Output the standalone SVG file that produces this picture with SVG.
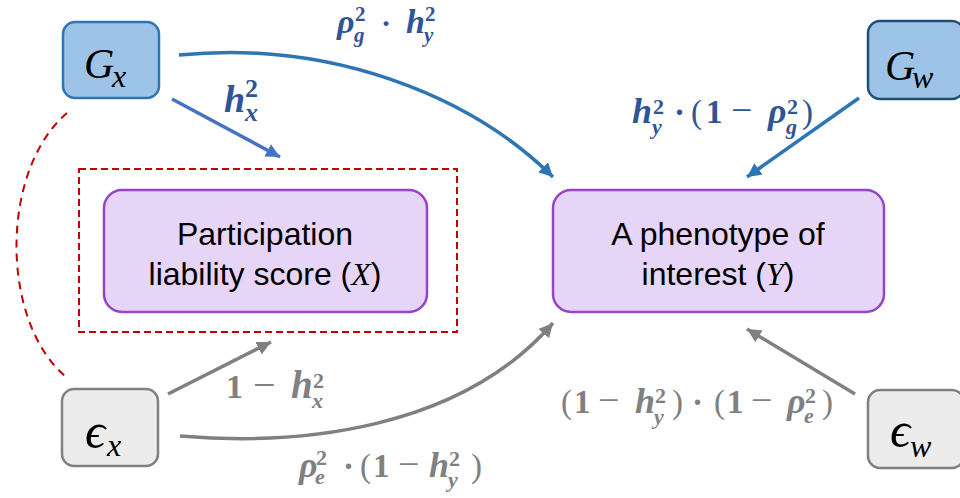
<svg xmlns="http://www.w3.org/2000/svg" width="960" height="498" viewBox="0 0 960 498">
<defs>
<style>
.gbox{fill:#9dc3e6;stroke:#2e75b6;stroke-width:2.5}
.gwbox{fill:#9dc3e6;stroke:#1f4e79;stroke-width:2.5}
.ebox{fill:#ececec;stroke:#808080;stroke-width:2.5}
.pbox{fill:#e6d5f7;stroke:#9446c6;stroke-width:2.5}
.sym{font-family:"Liberation Serif","DejaVu Serif",serif;font-style:italic;fill:#000}
.lbl{font-family:"Liberation Sans",Arial,sans-serif;font-size:32px;fill:#000;text-anchor:middle}
.m{font-family:"Liberation Serif","DejaVu Serif",serif;font-weight:bold}
.blue{fill:#2f5597}
.gray{fill:#808080}
.i{font-style:italic}
.n{font-weight:normal}
.conn{fill:none;stroke-width:3.5}
.cb{stroke:#2e75b6}
.cb2{stroke:#4472c4}
.cg{stroke:#808080}
.red{fill:none;stroke:#c00000;stroke-width:2;stroke-dasharray:8 6}
</style>
<marker id="ab" markerUnits="userSpaceOnUse" markerWidth="16" markerHeight="14" refX="14" refY="7" orient="auto"><path d="M0,0 L14,7 L0,14 Z" fill="#2e75b6"/></marker>
<marker id="ab2" markerUnits="userSpaceOnUse" markerWidth="16" markerHeight="14" refX="14" refY="7" orient="auto"><path d="M0,0 L14,7 L0,14 Z" fill="#4472c4"/></marker>
<marker id="ag" markerUnits="userSpaceOnUse" markerWidth="16" markerHeight="14" refX="14" refY="7" orient="auto"><path d="M0,0 L14,7 L0,14 Z" fill="#808080"/></marker>
</defs>
<rect width="960" height="498" fill="#ffffff"/>

<g id="connectors">
<path class="red" d="M67,113 C0,170 0,320 65,376"/>
<path class="conn cb2" d="M172,99 L280,157" marker-end="url(#ab2)"/>
<path class="conn cb" d="M179,55 C330,40 470,95 553,177" marker-end="url(#ab)"/>
<path class="conn cb" d="M859,98 L747,177" marker-end="url(#ab)"/>
<path class="conn cg" d="M168,394 L271,342" marker-end="url(#ag)"/>
<path class="conn cg" d="M180,436 C300,446 460,430 553,323" marker-end="url(#ag)"/>
<path class="conn cg" d="M855,394 L747,329" marker-end="url(#ag)"/>
</g>

<g id="selection-frame">
<rect x="79" y="169" width="378" height="163" fill="none" stroke="#c00000" stroke-width="2" stroke-dasharray="7 4"/>
</g>

<g id="node-Gx">
<rect class="gbox" x="63" y="22" width="96" height="76" rx="12"/>
<text class="sym"><tspan x="84" y="78" font-size="42">G</tspan><tspan x="112" y="87" font-size="32">x</tspan></text>
</g>

<g id="node-Gw">
<rect class="gwbox" x="868" y="21" width="96" height="78" rx="12"/>
<text class="sym"><tspan x="885" y="80" font-size="42">G</tspan><tspan x="912" y="88" font-size="32">w</tspan></text>
</g>

<g id="node-ex">
<rect class="ebox" x="62" y="389" width="96" height="77" rx="12"/>
<text class="sym"><tspan x="85" y="448" font-size="50">ϵ</tspan><tspan x="107" y="456" font-size="32">x</tspan></text>
</g>

<g id="node-ew">
<rect class="ebox" x="868" y="390" width="96" height="78" rx="12"/>
<text class="sym"><tspan x="890" y="447" font-size="50">ϵ</tspan><tspan x="910" y="457" font-size="32">w</tspan></text>
</g>

<g id="node-X">
<rect class="pbox" x="104" y="190" width="323" height="122" rx="18"/>
<text class="lbl" x="265" y="245">Participation</text>
<text class="lbl" x="265" y="285">liability score (<tspan font-family="Liberation Serif,serif" font-style="italic">X</tspan>)</text>
</g>

<g id="node-Y">
<rect class="pbox" x="553" y="190" width="331" height="122" rx="18"/>
<text class="lbl" x="718" y="245">A phenotype of</text>
<text class="lbl" x="718" y="285">interest (<tspan font-family="Liberation Serif,serif" font-style="italic">Y</tspan>)</text>
</g>

<g id="labels">
<text class="m blue" font-size="30">
<tspan class="i" x="337" y="33" font-size="34">ρ</tspan><tspan x="355" y="21" font-size="21">2</tspan><tspan class="i" x="354" y="42" font-size="21">g</tspan>
<tspan x="381" y="33">·</tspan>
<tspan class="i" x="406" y="33" font-size="34">h</tspan><tspan x="425" y="21" font-size="21">2</tspan><tspan class="i" x="424" y="42" font-size="21">y</tspan>
</text>
<text class="m blue" font-size="38">
<tspan class="i" x="224" y="112">h</tspan><tspan x="245" y="97" font-size="26">2</tspan><tspan class="i" x="245" y="121" font-size="26">x</tspan>
</text>
<text class="m blue" font-size="33">
<tspan class="i" x="632" y="123" font-size="36">h</tspan><tspan x="653" y="114" font-size="22">2</tspan><tspan class="i" x="652" y="134" font-size="22">y</tspan>
<tspan x="674" y="123">·</tspan>
<tspan class="n" x="691" y="123">(</tspan><tspan x="706" y="123">1</tspan><tspan class="n" x="731" y="123" font-size="38">−</tspan>
<tspan class="i" x="768" y="123" font-size="36">ρ</tspan><tspan x="787" y="114" font-size="22">2</tspan><tspan class="i" x="786" y="134" font-size="22">g</tspan><tspan class="n" x="802" y="123">)</tspan>
</text>
<text class="m gray" font-size="34">
<tspan x="226" y="398">1</tspan><tspan class="n" x="253" y="398" font-size="40">−</tspan>
<tspan class="i" x="291" y="398" font-size="39">h</tspan><tspan x="313" y="388" font-size="22">2</tspan><tspan class="i" x="312" y="408" font-size="22">x</tspan>
</text>
<text class="m gray" font-size="33">
<tspan class="i" x="299" y="477" font-size="36">ρ</tspan><tspan x="316" y="465" font-size="22">2</tspan><tspan class="i" x="315" y="484" font-size="22">e</tspan>
<tspan x="343" y="477">·</tspan>
<tspan class="n" x="360" y="477">(</tspan><tspan x="373" y="477">1</tspan><tspan class="n" x="398" y="477" font-size="38">−</tspan>
<tspan class="i" x="429" y="477" font-size="36">h</tspan><tspan x="449" y="466" font-size="22">2</tspan><tspan class="i" x="448" y="487" font-size="22">y</tspan><tspan class="n" x="471" y="477">)</tspan>
</text>
<text class="m gray" font-size="33">
<tspan class="n" x="561" y="413">(</tspan><tspan x="574" y="413">1</tspan><tspan class="n" x="598" y="413" font-size="38">−</tspan>
<tspan class="i" x="635" y="413" font-size="36">h</tspan><tspan x="655" y="403" font-size="22">2</tspan><tspan class="i" x="654" y="424" font-size="22">y</tspan><tspan class="n" x="672" y="413">)</tspan>
<tspan x="692" y="413">·</tspan>
<tspan class="n" x="714" y="413">(</tspan><tspan x="727" y="413">1</tspan><tspan class="n" x="751" y="413" font-size="38">−</tspan>
<tspan class="i" x="787" y="413" font-size="36">ρ</tspan><tspan x="805" y="403" font-size="22">2</tspan><tspan class="i" x="804" y="423" font-size="22">e</tspan><tspan class="n" x="822" y="413">)</tspan>
</text>
</g>
</svg>
